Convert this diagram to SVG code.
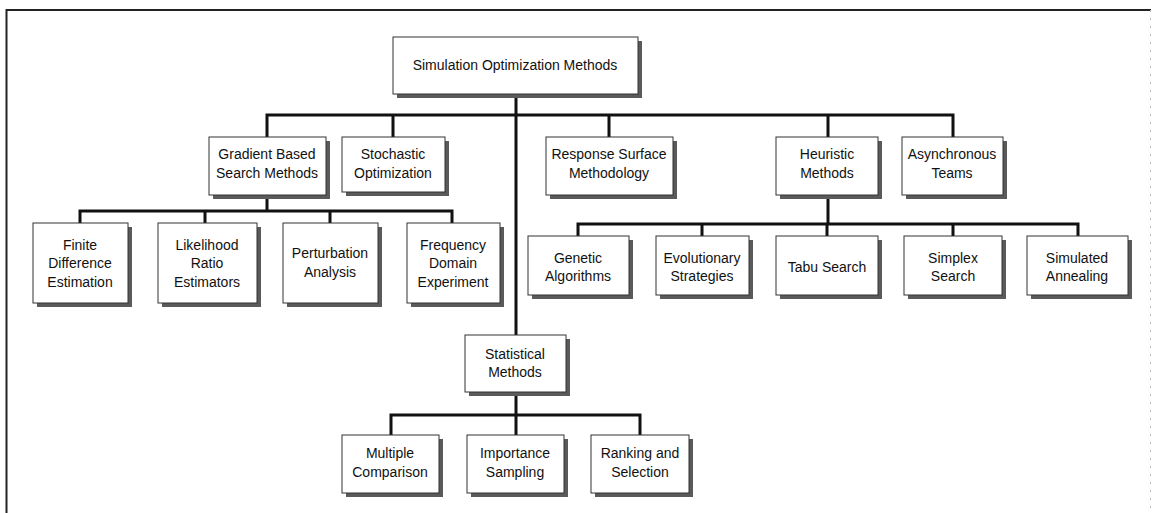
<svg xmlns="http://www.w3.org/2000/svg" width="1152" height="513" viewBox="0 0 1152 513">
<style>
.sh{fill:#5a5a5a}
.bx{fill:#fff;stroke:#333;stroke-width:1}
.t{font-family:"Liberation Sans",Arial,sans-serif;font-size:14px;fill:#111;text-anchor:middle}
.c{stroke:#111;stroke-width:3;fill:none;stroke-linecap:square}
</style>
<rect x="0" y="0" width="1152" height="513" fill="#fff"/>
<g id="frame">
<line x1="6.5" y1="9" x2="6.5" y2="513" stroke="#222" stroke-width="2"/>
<line x1="6" y1="10" x2="1151" y2="10" stroke="#222" stroke-width="2"/>
<line x1="1150.5" y1="10" x2="1150.5" y2="513" stroke="#bbb" stroke-width="1" stroke-dasharray="2 6"/>
</g>
<g id="connectors">
<path class="c" d="M516 94V335"/>
<path class="c" d="M267 115H953M267 115V137M393 115V137M609 115V137M828 115V137M953 115V137"/>
<path class="c" d="M267 195V211M80 211H452M80 211V223M205 211V223M330 211V223M452 211V223"/>
<path class="c" d="M828 195V224M578 224H1078M578 224V236M702 224V236M827 224V236M953 224V236M1078 224V236"/>
<path class="c" d="M516 392V415M391 415H640M391 415V435M516 415V435M640 415V435"/>
</g>
<g id="root"><rect class="sh" x="397" y="41" width="245" height="57"/><rect class="bx" x="393" y="37" width="245" height="57"/><text class="t" x="515" y="70">Simulation Optimization Methods</text></g>
<g id="gradient"><rect class="sh" x="213" y="141" width="117" height="58"/><rect class="bx" x="209" y="137" width="117" height="58"/><text class="t" x="267" y="159">Gradient Based</text><text class="t" x="267" y="178">Search Methods</text></g>
<g id="stochastic"><rect class="sh" x="346" y="141" width="103" height="55"/><rect class="bx" x="342" y="137" width="103" height="55"/><text class="t" x="393" y="159">Stochastic</text><text class="t" x="393" y="178">Optimization</text></g>
<g id="response"><rect class="sh" x="550" y="141" width="127" height="58"/><rect class="bx" x="546" y="137" width="127" height="58"/><text class="t" x="609" y="159">Response Surface</text><text class="t" x="609" y="178">Methodology</text></g>
<g id="heuristic"><rect class="sh" x="780" y="141" width="102" height="58"/><rect class="bx" x="776" y="137" width="102" height="58"/><text class="t" x="827" y="159">Heuristic</text><text class="t" x="827" y="178">Methods</text></g>
<g id="asynchronous"><rect class="sh" x="906" y="141" width="101" height="58"/><rect class="bx" x="902" y="137" width="101" height="58"/><text class="t" x="952" y="159">Asynchronous</text><text class="t" x="952" y="178">Teams</text></g>
<g id="finite"><rect class="sh" x="37" y="227" width="95" height="80"/><rect class="bx" x="33" y="223" width="95" height="80"/><text class="t" x="80" y="250">Finite</text><text class="t" x="80" y="268">Difference</text><text class="t" x="80" y="287">Estimation</text></g>
<g id="likelihood"><rect class="sh" x="162" y="227" width="99" height="80"/><rect class="bx" x="158" y="223" width="99" height="80"/><text class="t" x="207" y="250">Likelihood</text><text class="t" x="207" y="268">Ratio</text><text class="t" x="207" y="287">Estimators</text></g>
<g id="perturbation"><rect class="sh" x="287" y="227" width="95" height="80"/><rect class="bx" x="283" y="223" width="95" height="80"/><text class="t" x="330" y="258">Perturbation</text><text class="t" x="330" y="277">Analysis</text></g>
<g id="frequency"><rect class="sh" x="411" y="227" width="93" height="80"/><rect class="bx" x="407" y="223" width="93" height="80"/><text class="t" x="453" y="250">Frequency</text><text class="t" x="453" y="268">Domain</text><text class="t" x="453" y="287">Experiment</text></g>
<g id="genetic"><rect class="sh" x="532" y="240" width="101" height="59"/><rect class="bx" x="528" y="236" width="101" height="59"/><text class="t" x="578" y="263">Genetic</text><text class="t" x="578" y="281">Algorithms</text></g>
<g id="evolutionary"><rect class="sh" x="660" y="240" width="93" height="59"/><rect class="bx" x="656" y="236" width="93" height="59"/><text class="t" x="702" y="263">Evolutionary</text><text class="t" x="702" y="281">Strategies</text></g>
<g id="tabu"><rect class="sh" x="780" y="240" width="102" height="59"/><rect class="bx" x="776" y="236" width="102" height="59"/><text class="t" x="827" y="272">Tabu Search</text></g>
<g id="simplex"><rect class="sh" x="908" y="240" width="98" height="59"/><rect class="bx" x="904" y="236" width="98" height="59"/><text class="t" x="953" y="263">Simplex</text><text class="t" x="953" y="281">Search</text></g>
<g id="simulated"><rect class="sh" x="1031" y="240" width="101" height="59"/><rect class="bx" x="1027" y="236" width="101" height="59"/><text class="t" x="1077" y="263">Simulated</text><text class="t" x="1077" y="281">Annealing</text></g>
<g id="statistical"><rect class="sh" x="469" y="339" width="101" height="57"/><rect class="bx" x="465" y="335" width="101" height="57"/><text class="t" x="515" y="359">Statistical</text><text class="t" x="515" y="377">Methods</text></g>
<g id="multiple"><rect class="sh" x="346" y="439" width="97" height="58"/><rect class="bx" x="342" y="435" width="97" height="58"/><text class="t" x="390" y="458">Multiple</text><text class="t" x="390" y="477">Comparison</text></g>
<g id="importance"><rect class="sh" x="471" y="439" width="97" height="58"/><rect class="bx" x="467" y="435" width="97" height="58"/><text class="t" x="515" y="458">Importance</text><text class="t" x="515" y="477">Sampling</text></g>
<g id="ranking"><rect class="sh" x="595" y="439" width="98" height="58"/><rect class="bx" x="591" y="435" width="98" height="58"/><text class="t" x="640" y="458">Ranking and</text><text class="t" x="640" y="477">Selection</text></g>
</svg>
